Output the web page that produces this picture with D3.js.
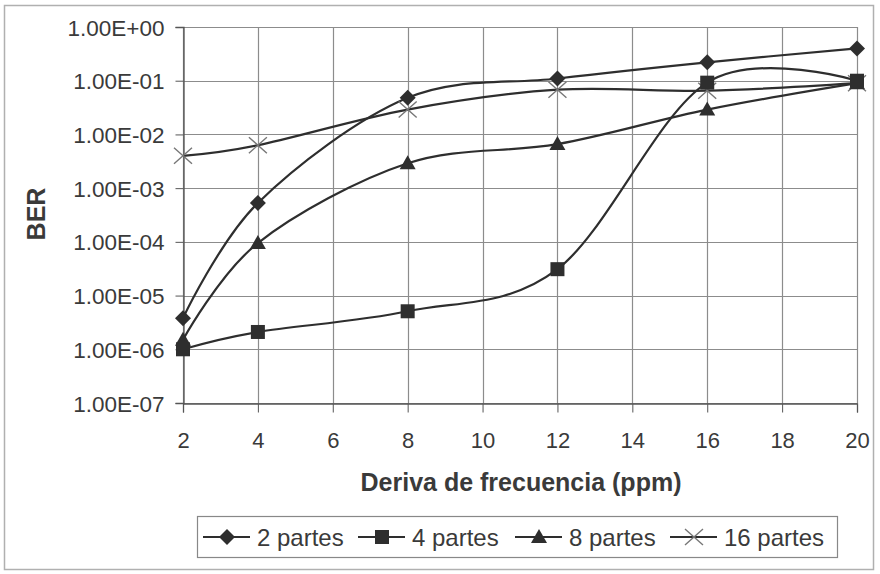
<!DOCTYPE html>
<html><head><meta charset="utf-8">
<script src="https://cdn.jsdelivr.net/npm/d3@7"></script>
<style>html,body{margin:0;padding:0;background:#fff;}svg{display:block;font-family:"Liberation Sans",Arial,sans-serif;}</style>
</head><body>
<svg id="c" width="880" height="574"></svg>
<script>
const xValues = [2, 4, 8, 12, 16, 20];
const seriesNames = ["2 partes", "4 partes", "8 partes", "16 partes"];
const s2 = [3.8e-6, 5.3e-4, 0.048, 0.11, 0.22, 0.40];
const s4 = [1.0e-6, 2.1e-6, 5.1e-6, 3.1e-5, 0.092, 0.10];
const s8 = [1.5e-6, 9.5e-5, 2.9e-3, 6.6e-3, 0.029, 0.09];
const s16 = [4.0e-3, 6.3e-3, 0.029, 0.068, 0.065, 0.09];
const markers = ["diamond", "square", "triangle", "cross"];
const xTicks = [2, 4, 6, 8, 10, 12, 14, 16, 18, 20];
const yTickLabels = ["1.00E-07","1.00E-06","1.00E-05","1.00E-04","1.00E-03","1.00E-02","1.00E-01","1.00E+00"];
const yTicks = [1e-7,1e-6,1e-5,1e-4,1e-3,1e-2,1e-1,1];
const xTitle = "Deriva de frecuencia (ppm)";
const yTitle = "BER";

const svg = d3.select("#c");
const L = 183, R = 857, T = 27, B = 403;
const x = d3.scaleLinear().domain([2, 20]).range([L, R]);
const y = d3.scaleLog().domain([1e-7, 1]).range([B, T]);
const ink = "#2e2e2e", grid = "#8c8c8c", txt = "#3a3a3a";

// outer frame
svg.append("rect").attr("x", 4.5).attr("y", 5.5).attr("width", 869).attr("height", 564)
  .attr("fill", "#fff").attr("stroke", "#b0b0b0").attr("stroke-width", 1.5);

// gridlines
const g = svg.append("g");
g.selectAll("line.hg").data(yTicks).join("line")
  .attr("x1", L).attr("x2", R).attr("y1", d => Math.round(y(d)) + 0.5).attr("y2", d => Math.round(y(d)) + 0.5)
  .attr("stroke", grid).attr("stroke-width", 1.2);
g.selectAll("line.vg").data(xTicks).join("line")
  .attr("y1", T).attr("y2", B).attr("x1", d => Math.round(x(d)) + 0.5).attr("x2", d => Math.round(x(d)) + 0.5)
  .attr("stroke", grid).attr("stroke-width", 1.2);

// axes
const xAxis = d3.axisBottom(x).tickValues(xTicks).tickSize(9).tickPadding(20).tickFormat(d3.format("d"));
const xa = svg.append("g").attr("transform", `translate(0,${B + 0.5})`).call(xAxis);
xa.select(".domain").attr("stroke", "#555").attr("stroke-width", 1.3);
xa.selectAll(".tick line").attr("stroke", "#555");
xa.selectAll(".tick text").attr("font-size", 22).attr("fill", txt).attr("font-family", "Liberation Sans, Arial");

const yAxis = d3.axisLeft(y).tickValues(yTicks).tickSize(8).tickPadding(11)
  .tickFormat((d, i) => yTickLabels[i]);
const ya = svg.append("g").attr("transform", `translate(${L + 0.5},0)`).call(yAxis);
ya.select(".domain").attr("stroke", "#555").attr("stroke-width", 1.3);
ya.selectAll(".tick line").attr("stroke", "#555");
ya.selectAll(".tick text").attr("font-size", 22.5).attr("fill", txt).attr("font-family", "Liberation Sans, Arial")
  .attr("x", -19).attr("dy", "0.36em");

// titles
svg.append("text").attr("x", 521).attr("y", 491).attr("text-anchor", "middle")
  .attr("font-size", 25).attr("font-weight", "bold").attr("fill", txt).text(xTitle);
svg.append("text").attr("transform", "translate(45,214) rotate(-90)").attr("text-anchor", "middle")
  .attr("font-size", 25).attr("font-weight", "bold").attr("fill", txt).text(yTitle);

// series
const data = [s2, s4, s8, s16];
const line = d3.line().x((d, i) => x(xValues[i])).y(d => y(d)).curve(d3.curveCardinal.tension(0));

function drawMarker(sel, type, cx, cy) {
  if (type === "diamond") {
    sel.append("path").attr("d", `M${cx},${cy-8}L${cx+8},${cy}L${cx},${cy+8}L${cx-8},${cy}Z`).attr("fill", ink);
  } else if (type === "square") {
    sel.append("rect").attr("x", cx - 7).attr("y", cy - 7).attr("width", 14).attr("height", 14).attr("fill", ink);
  } else if (type === "triangle") {
    sel.append("path").attr("d", `M${cx},${cy-8}L${cx+8},${cy+6}L${cx-8},${cy+6}Z`).attr("fill", ink);
  } else {
    sel.append("path").attr("d", `M${cx-9},${cy-8}L${cx+9},${cy+8}M${cx-9},${cy+8}L${cx+9},${cy-8}`)
      .attr("stroke", "#777").attr("stroke-width", 1.4).attr("fill", "none");
  }
}

const order = [3, 2, 0, 1];
order.forEach(k => {
  svg.append("path").datum(data[k]).attr("d", line).attr("fill", "none")
    .attr("stroke", ink).attr("stroke-width", 2.2);
});
order.forEach(k => {
  const gm = svg.append("g");
  data[k].forEach((v, i) => drawMarker(gm, markers[k], x(xValues[i]), y(v)));
});

// legend
svg.append("rect").attr("x", 197.5).attr("y", 516.5).attr("width", 640).attr("height", 41)
  .attr("fill", "#fff").attr("stroke", "#888").attr("stroke-width", 1.2);
const legX = [203, 358, 515, 670];
seriesNames.forEach((name, k) => {
  const lg = svg.append("g");
  const x0 = legX[k], cy = 537;
  lg.append("line").attr("x1", x0).attr("x2", x0 + 47).attr("y1", cy).attr("y2", cy)
    .attr("stroke", ink).attr("stroke-width", 2);
  drawMarker(lg, markers[k], x0 + 24, cy);
  lg.append("text").attr("x", x0 + 54).attr("y", cy + 8.5).attr("font-size", 24).attr("fill", txt).text(name);
});
</script>
</body></html>
